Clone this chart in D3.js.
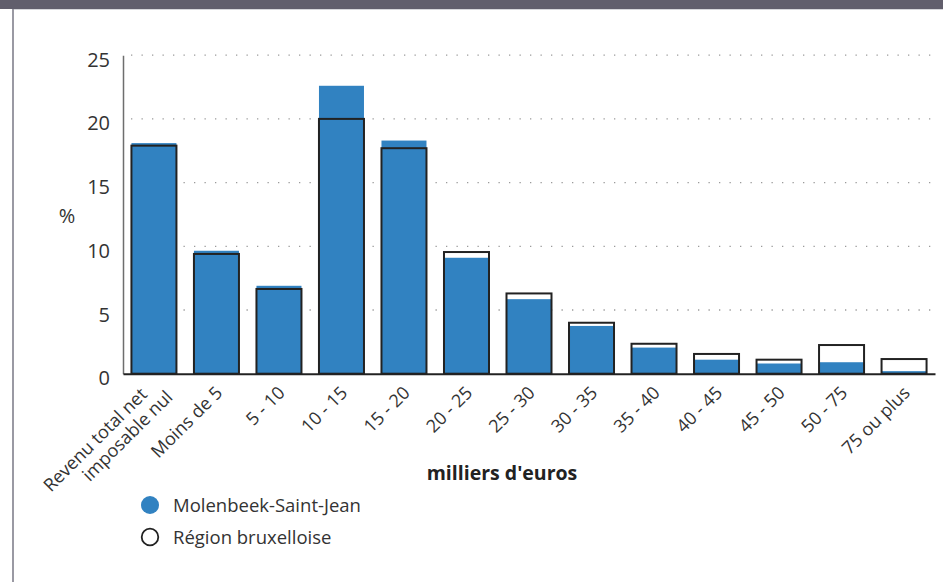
<!DOCTYPE html>
<html>
<head>
<meta charset="utf-8">
<script src="https://cdn.jsdelivr.net/npm/d3@7/dist/d3.min.js"></script>
<style>
  body { margin: 0; background: #fff; }
  svg { display: block; font-family: "Open Sans", "Noto Sans", sans-serif; }
</style>
</head>
<body>
<svg id="chart" width="943" height="582"></svg>
<script>
// tranches de revenu (milliers d'euros)
var categories = ["Revenu total net|imposable nul", "Moins de 5", "5 - 10", "10 - 15", "15 - 20", "20 - 25",
  "25 - 30", "30 - 35", "35 - 40", "40 - 45", "45 - 50", "50 - 75", "75 ou plus"];
var molenbeek = [18.1, 9.65, 6.9, 22.6, 18.3, 9.1, 5.85, 3.75, 2.05, 1.1, 0.8, 0.9, 0.2];
var region = [17.9, 9.4, 6.65, 20.0, 17.7, 9.55, 6.3, 4.0, 2.35, 1.55, 1.1, 2.25, 1.15];
var yTicks = [0, 5, 10, 15, 20, 25];
var seriesNames = ["Molenbeek-Saint-Jean", "Région bruxelloise"];

var svg = d3.select("#chart"),
  blue = "#3182c1";

// bandeau du haut + cadre
svg.append("rect").attr("x", 0).attr("y", 0).attr("width", 943).attr("height", 9).attr("fill", "#615e6c");
svg.append("line").attr("x1", 13).attr("x2", 943).attr("y1", 9.5).attr("y2", 9.5)
  .attr("stroke", "#d6d6da").attr("stroke-width", 1);
svg.append("line").attr("x1", 13).attr("x2", 13).attr("y1", 9).attr("y2", 582)
  .attr("stroke", "#9a99a3").attr("stroke-width", 2);

var x = d3.scaleBand().domain(categories).range([123, 935]).paddingInner(0.28).paddingOuter(0.135);
var y = d3.scaleLinear().domain([0, 25]).range([373.7, 55.2]);

// grille pointillée
svg.append("g")
  .selectAll("line")
  .data(yTicks.filter(function (d) { return d > 0; }))
  .enter()
  .append("line")
  .attr("x1", 131).attr("x2", 936)
  .attr("y1", function (d) { return y(d); })
  .attr("y2", function (d) { return y(d); })
  .attr("stroke", "#9a9a9a")
  .attr("stroke-width", 1.3)
  .attr("stroke-dasharray", "1.3,9.2");

// axe Y
var yAxis = svg.append("g")
  .attr("transform", "translate(123,0)")
  .call(d3.axisLeft(y).tickValues(yTicks).tickSize(0).tickPadding(13));
yAxis.select(".domain").attr("stroke", "#6e6e6e").attr("stroke-width", 1.5);
yAxis.selectAll("text").style("font-size", "20px").attr("fill", "#333")
  .attr("dy", "0.55em")
  .attr("font-family", "'Open Sans', sans-serif");

svg.append("text")
  .attr("x", 67).attr("y", 223)
  .attr("text-anchor", "middle")
  .style("font-size", "20px")
  .attr("fill", "#333")
  .text("%");

// barres Molenbeek
svg.append("g")
  .selectAll("rect")
  .data(molenbeek)
  .enter()
  .append("rect")
  .attr("x", function (d, i) { return x(categories[i]); })
  .attr("y", function (d) { return y(d); })
  .attr("width", x.bandwidth())
  .attr("height", function (d) { return y(0) - y(d); })
  .attr("fill", blue);

// contours Région
svg.append("g")
  .selectAll("rect")
  .data(region)
  .enter()
  .append("rect")
  .attr("x", function (d, i) { return x(categories[i]); })
  .attr("y", function (d) { return y(d); })
  .attr("width", x.bandwidth())
  .attr("height", function (d) { return y(0) - y(d); })
  .attr("fill", "none")
  .attr("stroke", "#222")
  .attr("stroke-width", 2);

// axe X
var xAxis = svg.append("g")
  .attr("transform", "translate(0," + y(0) + ")")
  .call(d3.axisBottom(x).tickSize(0).tickFormat(""));
xAxis.select(".domain").attr("stroke", "#222").attr("stroke-width", 2);

// étiquettes X inclinées
var lab = svg.append("g")
  .selectAll("text")
  .data(categories)
  .enter()
  .append("text")
  .attr("transform", function (d) {
    return "translate(" + (x(d) + x.bandwidth() / 2 - 2) + "," + 385 + ")rotate(-45)";
  })
  .attr("text-anchor", "end")
  .style("font-size", "18px")
  .attr("fill", "#333");
lab.each(function (d) {
  var parts = d.split("|"), t = d3.select(this);
  if (parts.length === 1) {
    t.append("tspan").attr("x", 0).attr("y", 0).attr("dy", "0.71em").text(d);
  } else {
    t.append("tspan").attr("x", -10).attr("y", -8).attr("dy", "0.71em").text(parts[0]);
    t.append("tspan").attr("x", 6).attr("y", 12).attr("dy", "0.71em").text(parts[1]);
  }
});

svg.append("text")
  .attr("x", 502).attr("y", 480)
  .attr("text-anchor", "middle")
  .style("font-size", "19.5px")
  .style("font-weight", "bold")
  .attr("fill", "#222")
  .text("milliers d'euros");

// légende
var leg = svg.append("g")
  .selectAll("g")
  .data(seriesNames)
  .enter()
  .append("g")
  .attr("transform", function (d, i) { return "translate(150," + (505 + i * 32) + ")"; });
leg.append("circle")
  .attr("r", function (d, i) { return i === 0 ? 9 : 8.3; })
  .attr("fill", function (d, i) { return i === 0 ? blue : "#fff"; })
  .attr("stroke", function (d, i) { return i === 0 ? "none" : "#222"; })
  .attr("stroke-width", 1.8);
leg.append("text")
  .attr("x", 23).attr("y", 6.5)
  .style("font-size", "18.5px")
  .attr("fill", "#333")
  .text(function (d) { return d; });
</script>
</body>
</html>
